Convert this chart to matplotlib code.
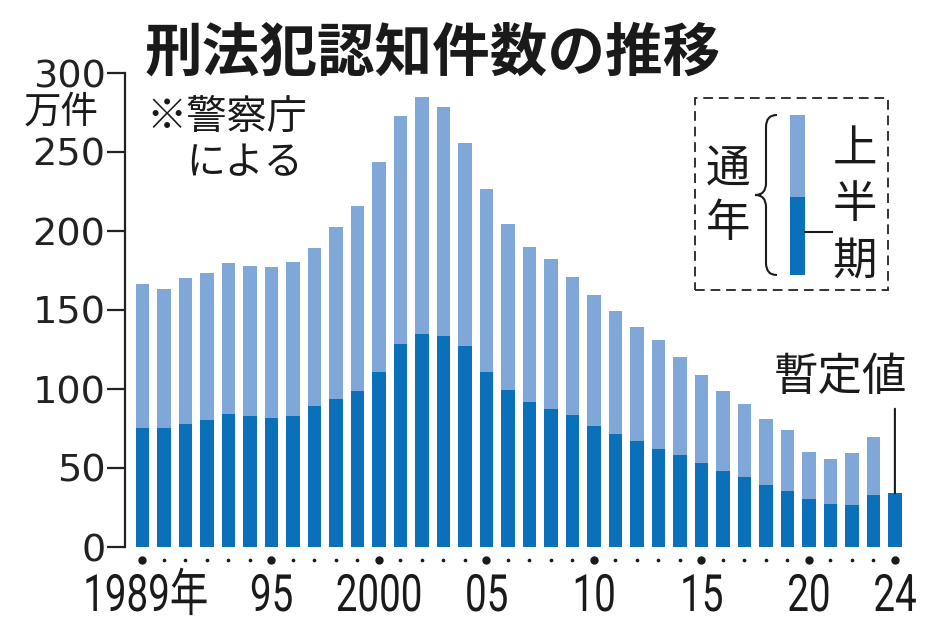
import matplotlib
matplotlib.use("Agg")
import matplotlib.pyplot as plt
from matplotlib.patches import Rectangle, PathPatch
from matplotlib.path import Path
from matplotlib.lines import Line2D
from matplotlib.transforms import Affine2D
from matplotlib.patheffects import AbstractPathEffect

plt.rcParams['font.family'] = ['Noto Sans CJK JP', 'DejaVu Sans']

# ---- data (万件) ----
years = list(range(1989, 2025))
total_years = list(range(1989, 2024))
total = [166.5, 163.1, 170.1, 173.6, 179.6, 177.8, 177.4, 180.6, 189.4, 202.7,
         215.8, 243.9, 273.0, 285.0, 278.7, 255.5, 226.4, 204.2, 190.1, 182.1,
         170.7, 159.5, 149.6, 139.4, 130.8, 120.4, 109.1, 98.7, 90.5, 80.8,
         73.9, 60.3, 55.9, 59.3, 69.4]
first_half = [75.1, 75.1, 77.8, 80.2, 84.0, 82.7, 81.6, 82.7, 89.2, 93.5,
              98.5, 110.6, 128.3, 134.6, 133.4, 127.0, 110.6, 99.2, 91.8, 87.5,
              83.5, 76.8, 71.5, 66.9, 61.8, 58.4, 53.2, 48.3, 44.3, 39.0,
              35.6, 30.2, 27.0, 26.6, 32.7, 34.0]
yticks = [0, 50, 100, 150, 200, 250, 300]
major_years = [1989, 1995, 2000, 2005, 2010, 2015, 2020, 2024]
xlabels = ["1989年", "95", "2000", "05", "10", "15", "20", "24"]

title = "刑法犯認知件数の推移"
light = "#7FA8D8"
dark = "#0A70BA"
ink = "#1a1a1a"

W, H = 934, 638
fig = plt.figure(figsize=(W / 100, H / 100), dpi=100)


def fx(px):
    return px / W


def fy(py):
    return 1 - py / H


class HScale(AbstractPathEffect):
    """Condense text horizontally about its own centre (text stays a Text)."""

    def __init__(self, sx):
        super().__init__()
        self.sx = sx

    def draw_path(self, renderer, gc, tpath, affine, rgbFace=None):
        ext = tpath.get_extents()
        cx = (ext.x0 + ext.x1) / 2
        t = Affine2D().translate(-cx, 0).scale(self.sx, 1).translate(cx, 0)
        renderer.draw_path(gc, tpath, t + affine, rgbFace)


# axes: left spine x=125, bottom y=547, top y=73
x0 = 1988.186
x1 = 2024.47
ax = fig.add_axes([fx(125), fy(547), (905 - 125) / W, (547 - 73) / H])
ax.bar(total_years, total, width=0.62, color=light, zorder=2)
ax.bar(years, first_half, width=0.62, color=dark, zorder=3)
ax.set_xlim(x0, x1)
ax.set_ylim(0, 300)
for s in ["top", "right", "bottom"]:
    ax.spines[s].set_visible(False)
ax.spines["left"].set_linewidth(1.6)
ax.spines["left"].set_color("#222222")
ax.set_yticks(yticks)
ax.set_yticklabels([str(v) for v in yticks], family="DejaVu Sans", fontsize=27.5,
                   color="#222222")
ax.tick_params(axis="y", direction="out", length=13, width=1.6, pad=1, colors="#222222")
ax.set_xticks([])

# dots below bars
trans = ax.get_xaxis_transform()
small = [y for y in years if y not in major_years]
ax.scatter(major_years, [-0.027] * len(major_years), s=36, color=ink,
           transform=trans, clip_on=False, zorder=5, linewidths=0)
ax.scatter(small, [-0.027] * len(small), s=7, color=ink,
           transform=trans, clip_on=False, zorder=5, linewidths=0)

# x labels (condensed)
lab_y = (547 - 611) / (547 - 73)
for yr, lab in zip(major_years, xlabels):
    xx = yr + (3.0 / 21.5 if yr == 1989 else 0)
    ax.text(xx, lab_y, lab, transform=trans, ha="center", va="baseline",
            family=["Roboto", "Noto Sans CJK JP"], fontsize=37, color=ink,
            path_effects=[HScale(0.75)])

# title and notes
fig.text(fx(145), fy(54), title, fontsize=41.5, fontweight="bold", ha="left",
         va="center", color=ink)
fig.text(fx(24), fy(112), "万件", fontsize=27, ha="left", va="center", color=ink)
fig.text(fx(146), fy(117), "※警察庁", fontsize=29, ha="left", va="center", color=ink)
fig.text(fx(186), fy(163), "による", fontsize=28, ha="left", va="center", color=ink)

# legend box
fig.patches.append(Rectangle((fx(695), fy(290)), (888 - 695) / W, (290 - 98) / H,
                             transform=fig.transFigure, fill=False, edgecolor="#333333",
                             linewidth=1.4, linestyle=(0, (5, 3))))
fig.patches.append(Rectangle((fx(790), fy(275)), 15 / W, (275 - 197) / H,
                             transform=fig.transFigure, facecolor=dark, edgecolor="none"))
fig.patches.append(Rectangle((fx(790), fy(197)), 15 / W, (197 - 115) / H,
                             transform=fig.transFigure, facecolor=light, edgecolor="none"))
# brace
pts = [(777, 115), (766, 115), (766, 127), (766, 183), (766, 195), (755, 195),
       (766, 195), (766, 207), (766, 263), (766, 275), (777, 275)]
codes = [Path.MOVETO, Path.CURVE3, Path.CURVE3, Path.LINETO, Path.CURVE3, Path.CURVE3,
         Path.CURVE3, Path.CURVE3, Path.LINETO, Path.CURVE3, Path.CURVE3]
path = Path([(fx(x), fy(y)) for x, y in pts], codes)
fig.patches.append(PathPatch(path, transform=fig.transFigure, fill=False,
                             edgecolor=ink, linewidth=1.5))
fig.lines.append(Line2D([fx(805), fx(832)], [fy(232), fy(232)], transform=fig.transFigure,
                        color=ink, linewidth=1.5))
fig.text(fx(728), fy(170), "通", fontsize=32, ha="center", va="center", color=ink)
fig.text(fx(728), fy(223), "年", fontsize=32, ha="center", va="center", color=ink)
for ch, yy in zip("上半期", [150, 204, 261]):
    fig.text(fx(855), fy(yy), ch, fontsize=32, ha="center", va="center", color=ink)

# provisional value annotation
fig.text(fx(840), fy(377), "暫定値", fontsize=32, ha="center", va="center", color=ink)
ax.annotate("", xy=(2024, first_half[-1]), xytext=(2024, 87.5),
            arrowprops=dict(arrowstyle="-", color=ink, lw=1.5, shrinkA=0, shrinkB=0))

fig.savefig("out.png", dpi=100, facecolor="white")
